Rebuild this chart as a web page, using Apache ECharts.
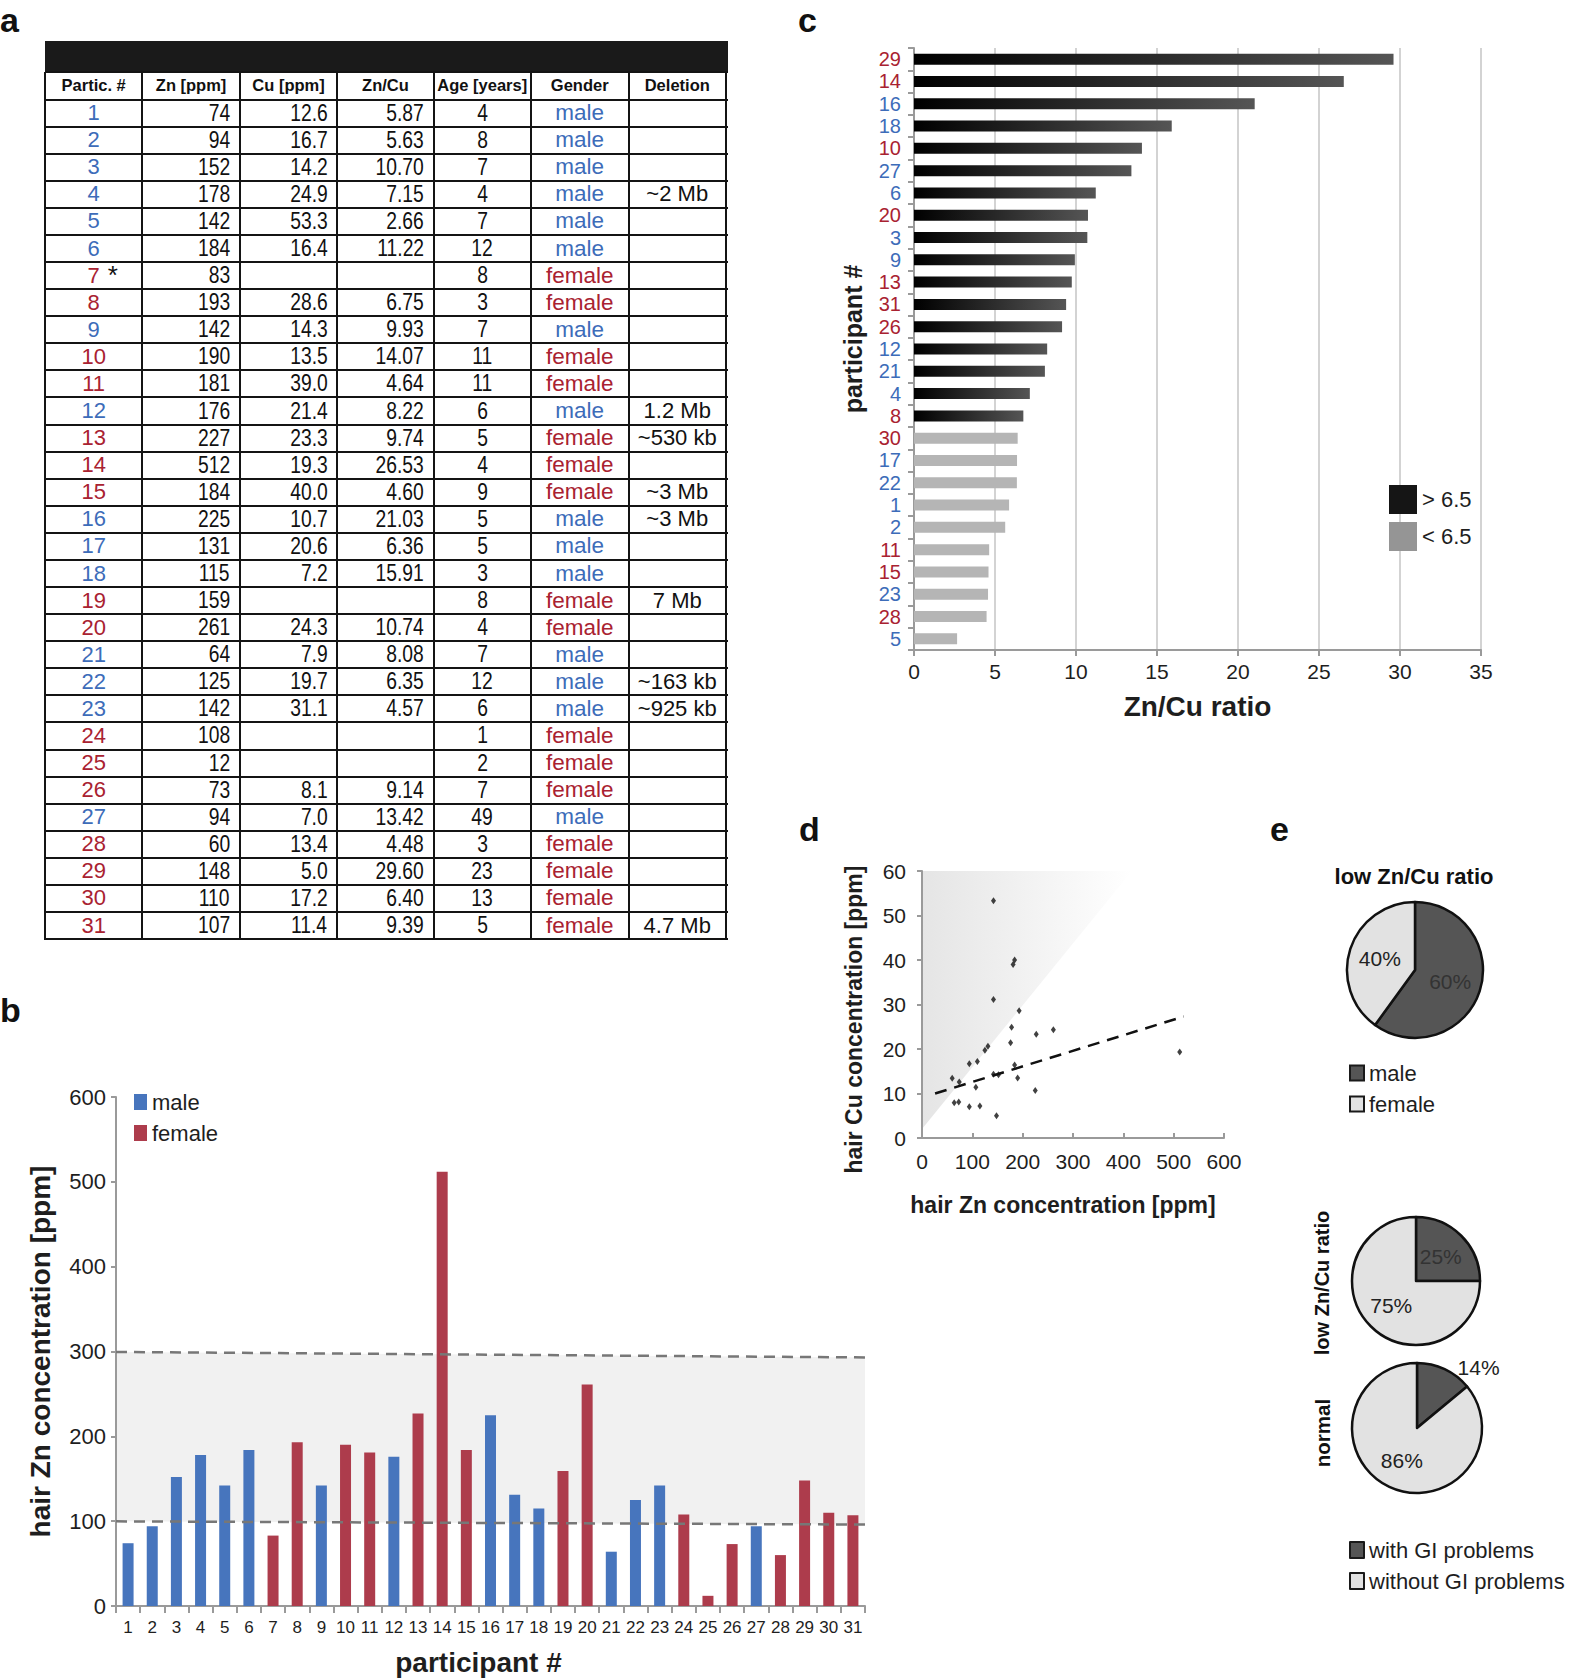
<!DOCTYPE html>
<html><head><meta charset="utf-8">
<script src="https://cdn.jsdelivr.net/npm/echarts@6/dist/echarts.min.js"></script>
<style>
html,body{margin:0;padding:0;background:#fff;}
#chart{position:absolute;left:0;top:0;width:1575px;height:1679px;}
#tbl{position:absolute;left:0;top:0;width:0;height:0;}
.ln{position:absolute;background:#141414;}
.cell{position:absolute;display:flex;align-items:center;white-space:nowrap;color:#111;box-sizing:border-box;}
</style></head><body>
<div id="chart"></div>
<div id="tbl"></div>
<script>
// ---------------- DATA ----------------
const participants = [1,2,3,4,5,6,7,8,9,10,11,12,13,14,15,16,17,18,19,20,21,22,23,24,25,26,27,28,29,30,31];
const znPpm = [74,94,152,178,142,184,83,193,142,190,181,176,227,512,184,225,131,115,159,261,64,125,142,108,12,73,94,60,148,110,107];
const cuPpm = [12.6,16.7,14.2,24.9,53.3,16.4,null,28.6,14.3,13.5,39.0,21.4,23.3,19.3,40.0,10.7,20.6,7.2,null,24.3,7.9,19.7,31.1,null,null,8.1,7.0,13.4,5.0,17.2,11.4];
const znCuRatio = [5.87,5.63,10.70,7.15,2.66,11.22,null,6.75,9.93,14.07,4.64,8.22,9.74,26.53,4.60,21.03,6.36,15.91,null,10.74,8.08,6.35,4.57,null,null,9.14,13.42,4.48,29.60,6.40,9.39];
const ageYears = [4,8,7,4,7,12,8,3,7,11,11,6,5,4,9,5,5,3,8,4,7,12,6,1,2,7,49,3,23,13,5];
const gender = ['male','male','male','male','male','male','female','female','male','female','female','male','female','female','female','male','male','male','female','female','male','male','male','female','female','female','male','female','female','female','female'];
const deletion = ['','','','~2 Mb','','','','','','','','1.2 Mb','~530 kb','','~3 Mb','~3 Mb','','','7 Mb','','','~163 kb','~925 kb','','','','','','','','4.7 Mb'];
const footnoteMark = {7:'*'};
const tableHeader = ['Partic. #','Zn [ppm]','Cu [ppm]','Zn/Cu','Age [years]','Gender','Deletion'];

// panel b reference range (dashed lines)
const normalUpper = [[0,299.5],[31,293]];
const normalLower = [[0,99.8],[31,96]];
const bYTicks = [0,600,100];

// panel c: order of participants by Zn/Cu ratio
const ratioOrder = [29,14,16,18,10,27,6,20,3,9,13,31,26,12,21,4,8,30,17,22,1,2,11,15,23,28,5];
const ratioThreshold = 6.5;

// panel d
const trendLine = [[26,10.0],[520,27.3]];
const lowRatioZone = [[0,2],[417,60],[0,60]];

// panel e
const pieSexLowRatio = [{name:'male',value:60},{name:'female',value:40}];
const pieGILowRatio = [{name:'with GI problems',value:25},{name:'without GI problems',value:75}];
const pieGINormal = [{name:'with GI problems',value:14},{name:'without GI problems',value:86}];

// ---------------- STYLE ----------------
const BLUE_TXT = '#3d6cb9', RED_TXT = '#a92231';
const BLUE_BAR = '#4775bd', RED_BAR = '#ad3c4c';
const FF = '"Liberation Sans", Arial, sans-serif';
const FFN = '"Liberation Sans Narrow", "Liberation Sans", Arial, sans-serif';

function hasFont(name){
  const c=document.createElement('canvas').getContext('2d');
  c.font='72px monospace'; const a=c.measureText('mmmmllll0000').width;
  c.font='72px "'+name+'", monospace'; const b=c.measureText('mmmmllll0000').width;
  return Math.abs(a-b)>0.5;
}
const NARROW = hasFont('Liberation Sans Narrow');

// ---------------- TABLE (panel a) ----------------
(function(){
  const tbl=document.getElementById('tbl');
  const colX=[45,142.4,239.8,337.3,433.6,531,628.5,726];
  const barTop=41, headTop=71.7, headBot=99.6, rowH=27.08;
  const n=participants.length;
  const bottom=headBot+n*rowH;
  function el(cls, css, html){const d=document.createElement('div'); d.className=cls; d.style.cssText=css; if(html!==undefined) d.innerHTML=html; tbl.appendChild(d); return d;}
  el('ln',`left:${colX[0]}px;top:${barTop}px;width:${colX[7]-colX[0]+2}px;height:${headTop-barTop+1}px;background:#1a1a1a;`);
  const hy=[headTop,headBot]; for(let k=1;k<=n;k++) hy.push(headBot+k*rowH);
  hy.forEach(y=>el('ln',`left:${colX[0]}px;top:${y-1}px;width:${colX[7]-colX[0]+2}px;height:2px;`));
  colX.forEach(x=>el('ln',`left:${x-1}px;top:${headTop}px;width:2px;height:${bottom-headTop+1}px;`));
  tableHeader.forEach((h,j)=>{
    el('cell',`left:${colX[j]+1}px;top:${headTop+1}px;width:${colX[j+1]-colX[j]-2}px;height:${headBot-headTop-2}px;justify-content:center;font:bold 16.5px ${FF};`,h);
  });
  function narrow(txt, origin){
    if(NARROW) return `<span style="font-family:${FFN}">${txt}</span>`;
    return `<span style="display:inline-block;transform:scaleX(0.82);transform-origin:${origin} center;font-family:${FF}">${txt}</span>`;
  }
  const fmt1=v=>v==null?'':v.toFixed(1);
  const fmt2=v=>v==null?'':v.toFixed(2);
  participants.forEach((p,i)=>{
    const top=headBot+i*rowH+1, h=rowH-2;
    const col=gender[i]==='male'?BLUE_TXT:RED_TXT;
    const cells=[
      {html:`<span style="position:relative;color:${col}">${p}${footnoteMark[p]?`<span style="position:absolute;left:100%;top:-3px;padding-left:8px;color:#111;font-size:26px">${footnoteMark[p]}</span>`:''}</span>`, align:'center', font:`22px ${FF}`},
      {html:narrow(znPpm[i],'right'), align:'flex-end', font:`23.5px ${FF}`},
      {html:narrow(fmt1(cuPpm[i]),'right'), align:'flex-end', font:`23.5px ${FF}`},
      {html:narrow(fmt2(znCuRatio[i]),'right'), align:'flex-end', font:`23.5px ${FF}`},
      {html:narrow(ageYears[i],'center'), align:'center', font:`23.5px ${FF}`},
      {html:`<span style="color:${col}">${gender[i]}</span>`, align:'center', font:`22.5px ${FF}`},
      {html:deletion[i], align:'center', font:`22px ${FF}`}
    ];
    cells.forEach((c,j)=>{
      el('cell',`left:${colX[j]+1}px;top:${top}px;width:${colX[j+1]-colX[j]-2}px;height:${h}px;justify-content:${c.align};font:${c.font};padding-right:${c.align==='flex-end'?9:0}px;`,c.html);
    });
  });
})();

// ---------------- CHART ----------------
const chart = echarts.init(document.getElementById('chart'), null, {renderer:'svg', width:1575, height:1679});

const cats = participants.map(String);
const maleBars = znPpm.map((v,i)=>gender[i]==='male'?v:null);
const femaleBars = znPpm.map((v,i)=>gender[i]==='female'?v:null);

const ratioOf = p => znCuRatio[p-1];
const genderOf = p => gender[p-1];
const highRatio = ratioOrder.map(p=>ratioOf(p)>ratioThreshold?ratioOf(p):null);
const lowRatio = ratioOrder.map(p=>ratioOf(p)<=ratioThreshold?ratioOf(p):null);

const scatterPts = [];
znPpm.forEach((z,i)=>{ if(cuPpm[i]!=null) scatterPts.push([z,cuPpm[i]]); });

function polygonSeries(points, fill, xi, yi, z){
  return {type:'custom', xAxisIndex:xi, yAxisIndex:yi, silent:true, z:z, data:[[points[0][0],points[0][1]]],
    renderItem:(params, api)=>({type:'polygon', shape:{points:points.map(p=>api.coord(p))}, style:{fill:fill}, silent:true})};
}
const bandPts = [normalUpper[0], normalUpper[1], normalLower[1], normalLower[0]];

const axisGrey = '#9a9a9a';
const txt = '#1e1e1e';
const letter = (t,x,y)=>({type:'text', x:x, y:y, style:{text:t, font:`bold 34px ${FF}`, lineHeight:24, fill:'#111', verticalAlign:'middle'}});

const option = {
  animation:false,
  backgroundColor:'#fff',
  textStyle:{fontFamily:FF},
  grid:[
    {left:116, top:1097, width:749, height:509, outerBoundsMode:'none'},
    {left:914, top:48, width:567, height:602, outerBoundsMode:'none'},
    {left:922, top:871, width:302, height:267, outerBoundsMode:'none'}
  ],
  xAxis:[
    {type:'category', gridIndex:0, data:cats,
      axisLine:{lineStyle:{color:axisGrey,width:2}},
      axisTick:{show:true, interval:0, length:7, lineStyle:{color:axisGrey,width:2}},
      axisLabel:{interval:0, fontSize:17, fontFamily:FFN, color:txt, margin:13},
      name:'participant #', nameLocation:'middle', nameGap:42, nameMoveOverlap:false,
      nameTextStyle:{fontSize:28, fontWeight:'bold', color:txt, fontFamily:FF, padding:[0,24,0,0]}},
    {type:'value', gridIndex:0, min:0, max:31, show:false},
    {type:'value', gridIndex:1, min:0, max:35, interval:5,
      axisLine:{show:true, lineStyle:{color:axisGrey,width:2}},
      axisTick:{show:true, length:6, lineStyle:{color:axisGrey,width:2}},
      splitLine:{show:true, lineStyle:{color:'#d3d3d3',width:2}},
      axisLabel:{fontSize:21, color:txt, margin:11},
      name:'Zn/Cu ratio', nameLocation:'middle', nameGap:42, nameMoveOverlap:false,
      nameTextStyle:{fontSize:28, fontWeight:'bold', color:txt, fontFamily:FF}},
    {type:'value', gridIndex:2, min:0, max:600, interval:100,
      axisLine:{show:true, lineStyle:{color:axisGrey,width:2}},
      axisTick:{show:true, inside:true, length:5, lineStyle:{color:axisGrey,width:2}},
      splitLine:{show:false},
      axisLabel:{fontSize:21, color:txt, margin:13},
      name:'hair Zn concentration [ppm]', nameLocation:'middle', nameGap:55, nameMoveOverlap:false,
      nameTextStyle:{fontSize:23, fontWeight:'bold', color:txt, fontFamily:FF, padding:[0,20,0,0]}}
  ],
  yAxis:[
    {type:'value', gridIndex:0, min:bYTicks[0], max:bYTicks[1], interval:bYTicks[2],
      axisLine:{show:true, lineStyle:{color:axisGrey,width:2}},
      axisTick:{show:true, length:5, lineStyle:{color:axisGrey,width:2}},
      splitLine:{show:false},
      axisLabel:{fontSize:22, color:txt, margin:10},
      name:'hair Zn concentration [ppm]', nameLocation:'middle', nameGap:62, nameRotate:90, nameMoveOverlap:false,
      nameTextStyle:{fontSize:28, fontWeight:'bold', color:txt, fontFamily:FF}},
    {type:'category', gridIndex:1, inverse:true, data:ratioOrder.map(String),
      axisLine:{show:true, lineStyle:{color:axisGrey,width:2}},
      axisTick:{show:true, interval:0, length:6, lineStyle:{color:axisGrey,width:2}},
      axisLabel:{interval:0, margin:13, fontSize:20,
        formatter:v=>`{${genderOf(+v)==='male'?'m':'f'}|${v}}`,
        rich:{m:{color:BLUE_TXT,fontSize:20,fontFamily:FF}, f:{color:RED_TXT,fontSize:20,fontFamily:FF}}},
      name:'participant #', nameLocation:'middle', nameGap:49, nameRotate:90, nameMoveOverlap:false,
      nameTextStyle:{fontSize:25, fontWeight:'bold', color:txt, fontFamily:FF, padding:[0,0,0,20]}},
    {type:'value', gridIndex:2, min:0, max:60, interval:10,
      axisLine:{show:true, lineStyle:{color:axisGrey,width:2}},
      axisTick:{show:true, length:5, lineStyle:{color:axisGrey,width:2}},
      splitLine:{show:false},
      axisLabel:{fontSize:21, color:txt, margin:16},
      name:'hair Cu concentration [ppm]', nameLocation:'middle', nameGap:57, nameRotate:90, nameMoveOverlap:false,
      nameTextStyle:{fontSize:23, fontWeight:'bold', color:txt, fontFamily:FF, padding:[0,30,0,0]}}
  ],
  legend:[
    {left:134, top:1091, orient:'vertical', itemWidth:13, itemHeight:16, itemGap:9, padding:0, selectedMode:false, icon:'rect',
      textStyle:{fontSize:22, color:txt},
      data:[{name:'male', itemStyle:{color:BLUE_BAR, borderWidth:0}},{name:'female', itemStyle:{color:RED_BAR, borderWidth:0}}]},
    {left:1389, top:485, orient:'vertical', itemWidth:28, itemHeight:29, itemGap:8, padding:0, selectedMode:false, icon:'rect',
      textStyle:{fontSize:22, color:txt},
      data:[{name:'> 6.5', itemStyle:{color:'#151515'}},{name:'< 6.5', itemStyle:{color:'#959595'}}]},
    {left:1349, top:1062, orient:'vertical', itemWidth:14, itemHeight:15, itemGap:9, padding:0, selectedMode:false, icon:'rect',
      textStyle:{fontSize:22, color:txt},
      data:[{name:'male', itemStyle:{color:'#555555', borderColor:'#1a1a1a', borderWidth:2}},{name:'female', itemStyle:{color:'#e2e2e2', borderColor:'#1a1a1a', borderWidth:2}}]},
    {left:1349, top:1539, orient:'vertical', itemWidth:14, itemHeight:16, itemGap:9, padding:0, selectedMode:false, icon:'rect',
      textStyle:{fontSize:22, color:txt},
      data:[{name:'with GI problems', itemStyle:{color:'#555555', borderColor:'#1a1a1a', borderWidth:2}},{name:'without GI problems', itemStyle:{color:'#e2e2e2', borderColor:'#1a1a1a', borderWidth:2}}]}
  ],
  graphic:[
    letter('a',0,20), letter('b',0,1010), letter('c',798,20), letter('d',799,829), letter('e',1270,829),
    {type:'text', x:1414, y:876, style:{text:'low Zn/Cu ratio', font:`bold 22px ${FF}`, fill:'#111', align:'center', verticalAlign:'middle'}},
    {type:'text', x:1322, y:1283, rotation:Math.PI/2, style:{text:'low Zn/Cu ratio', font:`bold 20px ${FFN}`, fill:'#111', align:'center', verticalAlign:'middle'}},
    {type:'text', x:1322, y:1433, rotation:Math.PI/2, style:{text:'normal', font:`bold 20.5px ${FFN}`, fill:'#111', align:'center', verticalAlign:'middle'}}
  ],
  series:[
    polygonSeries(bandPts, '#f1f1f1', 1, 0, 0),
    {name:'male', type:'bar', xAxisIndex:0, yAxisIndex:0, data:maleBars, barWidth:11, barGap:'-100%', itemStyle:{color:BLUE_BAR}, z:2},
    {name:'female', type:'bar', xAxisIndex:0, yAxisIndex:0, data:femaleBars, barWidth:11, barGap:'-100%', itemStyle:{color:RED_BAR}, z:2},
    {type:'line', xAxisIndex:1, yAxisIndex:0, data:normalUpper, symbol:'none', silent:true, z:5, lineStyle:{color:'#777', width:2.5, type:[11,7]}},
    {type:'line', xAxisIndex:1, yAxisIndex:0, data:normalLower, symbol:'none', silent:true, z:5, lineStyle:{color:'#777', width:2.5, type:[11,7]}},
    {name:'> 6.5', type:'bar', xAxisIndex:2, yAxisIndex:1, data:highRatio, barWidth:11, barGap:'-100%',
      itemStyle:{color:new echarts.graphic.LinearGradient(0,0,1,0,[{offset:0,color:'#000'},{offset:1,color:'#555'}])}},
    {name:'< 6.5', type:'bar', xAxisIndex:2, yAxisIndex:1, data:lowRatio, barWidth:11, barGap:'-100%', itemStyle:{color:'#b5b5b5'}},
    polygonSeries(lowRatioZone, new echarts.graphic.LinearGradient(0,0,1,0,[{offset:0,color:'#e5e5e5'},{offset:1,color:'#ffffff'}]), 3, 2, 0),
    {type:'scatter', xAxisIndex:3, yAxisIndex:2, data:scatterPts, symbol:'diamond', symbolSize:[5,7], itemStyle:{color:'#111'}, z:4},
    {type:'line', xAxisIndex:3, yAxisIndex:2, data:trendLine, symbol:'none', silent:true, z:3, lineStyle:{color:'#111', width:2.5, type:[12,8]}},
    {type:'pie', center:[1415,970], radius:68, startAngle:90, clockwise:true, avoidLabelOverlap:false, silent:true,
      itemStyle:{borderColor:'#111', borderWidth:2.5},
      label:{position:'inside', formatter:'{c}%', fontSize:21, color:'#222'},
      data:pieSexLowRatio.map((d,i)=>({...d, itemStyle:{color:i===0?'#555555':'#e2e2e2'}, label:{color:i===0?'#333':'#222'}}))},
    {type:'pie', center:[1416,1281], radius:64, startAngle:90, clockwise:true, avoidLabelOverlap:false, silent:true,
      itemStyle:{borderColor:'#111', borderWidth:2.5},
      label:{position:'inside', formatter:'{c}%', fontSize:21, color:'#222'},
      data:pieGILowRatio.map((d,i)=>({...d, itemStyle:{color:i===0?'#555555':'#e2e2e2'}, label:{color:i===0?'#333':'#222'}}))},
    {type:'pie', center:[1417,1428], radius:65, startAngle:90, clockwise:true, avoidLabelOverlap:false, silent:true,
      itemStyle:{borderColor:'#111', borderWidth:2.5},
      label:{position:'inside', formatter:'{c}%', fontSize:21, color:'#222'},
      labelLine:{show:false, length:2, length2:12},
      data:pieGINormal.map((d,i)=>({...d, itemStyle:{color:i===0?'#555555':'#e2e2e2'},
        label:i===0?{position:'outside', color:'#222', distanceToLabelLine:0}:{color:'#222'}}))}
  ]
};
chart.setOption(option);
</script>
</body></html>
